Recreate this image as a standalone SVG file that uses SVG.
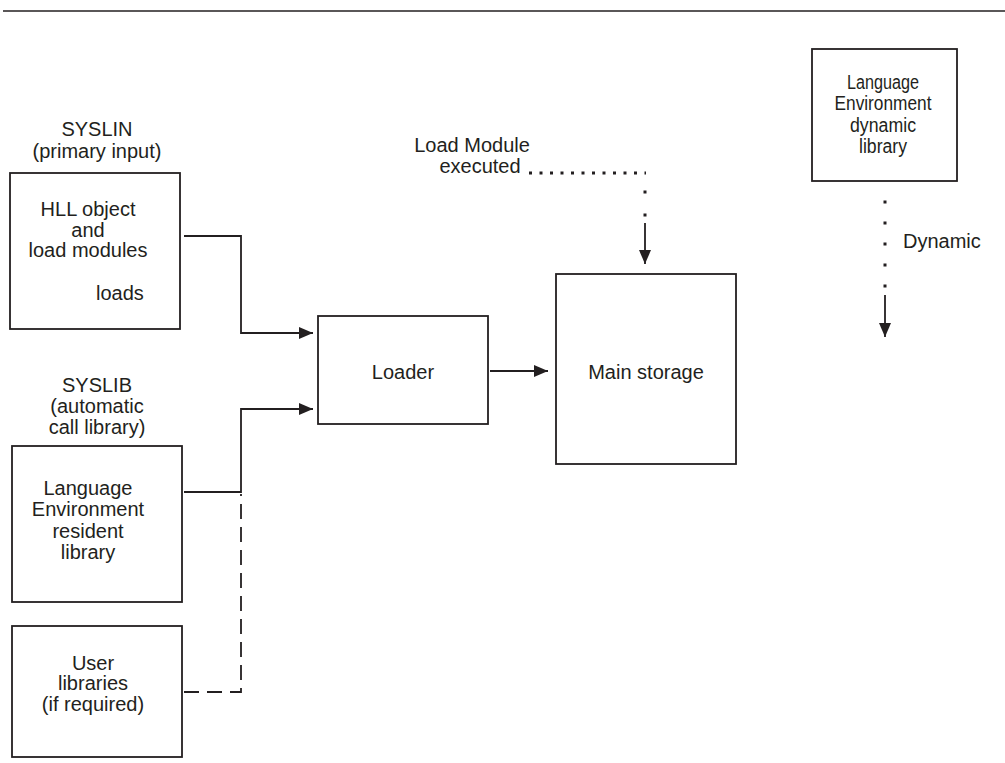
<svg xmlns="http://www.w3.org/2000/svg" width="1005" height="763" viewBox="0 0 1005 763">
<style>
.box{fill:#fff;stroke:#231f20;stroke-width:1.8}
.t{font-family:"Liberation Sans",Arial,sans-serif;font-size:20px;fill:#231f20;text-anchor:middle}
.tl{font-family:"Liberation Sans",Arial,sans-serif;font-size:20px;fill:#231f20}
.ln{fill:none;stroke:#231f20;stroke-width:1.8}
.dash{fill:none;stroke:#231f20;stroke-width:1.8;stroke-dasharray:15 8}
.dot{fill:none;stroke:#231f20;stroke-width:3;stroke-dasharray:3 7.5}
.vdot{fill:none;stroke:#231f20;stroke-width:3;stroke-dasharray:3 18}
</style>
<defs>
<marker id="ah" markerWidth="14" markerHeight="12" refX="14" refY="6" orient="auto" markerUnits="userSpaceOnUse">
<path d="M0,0 L14,6 L0,12 Z" fill="#231f20"/>
</marker>
</defs>
<line x1="3" y1="11" x2="1005" y2="11" stroke="#231f20" stroke-width="1.5"/>

<g id="syslin-label">
<text class="t" x="97" y="136">SYSLIN</text>
<text class="t" x="97" y="158">(primary input)</text>
</g>
<g id="hll">
<rect class="box" x="10" y="173" width="170" height="156"/>
<text class="t" x="88" y="216">HLL object</text>
<text class="t" x="88" y="237">and</text>
<text class="t" x="88" y="257">load modules</text>
<text class="tl" x="96" y="300">loads</text>
</g>
<g id="syslib-label">
<text class="t" x="97" y="392">SYSLIB</text>
<text class="t" x="97" y="413">(automatic</text>
<text class="t" x="97" y="434">call library)</text>
</g>
<g id="le-resident">
<rect class="box" x="12" y="446" width="170" height="156"/>
<text class="t" x="88" y="495">Language</text>
<text class="t" x="88" y="516">Environment</text>
<text class="t" x="88" y="538">resident</text>
<text class="t" x="88" y="559">library</text>
</g>
<g id="user-libs">
<rect class="box" x="12" y="626" width="170" height="131"/>
<text class="t" x="93" y="670">User</text>
<text class="t" x="93" y="690">libraries</text>
<text class="t" x="93" y="711">(if required)</text>
</g>
<g id="loader">
<rect class="box" x="318" y="316" width="170" height="108"/>
<text class="t" x="403" y="379">Loader</text>
</g>
<g id="main-storage">
<rect class="box" x="556" y="274" width="180" height="190"/>
<text class="t" x="646" y="379">Main storage</text>
</g>
<g id="load-module-label">
<text class="t" x="472" y="152">Load Module</text>
<text class="t" x="480" y="173">executed</text>
</g>
<g id="le-dynamic">
<rect class="box" x="812" y="49" width="145" height="132"/>
<text class="t" x="883" y="89" font-size="19" textLength="72" lengthAdjust="spacingAndGlyphs">Language</text>
<text class="t" x="883" y="110" font-size="19" textLength="97" lengthAdjust="spacingAndGlyphs">Environment</text>
<text class="t" x="883" y="132" font-size="19" textLength="66" lengthAdjust="spacingAndGlyphs">dynamic</text>
<text class="t" x="883" y="153" font-size="19" textLength="48" lengthAdjust="spacingAndGlyphs">library</text>
</g>
<g id="dynamic-label">
<text class="tl" x="903" y="248">Dynamic</text>
</g>

<g id="connectors">
<polyline class="ln" points="184,236 241,236 241,333 313,333" marker-end="url(#ah)"/>
<polyline class="ln" points="184,492 241,492 241,409 313,409" marker-end="url(#ah)"/>
<polyline class="dash" points="184,692 241,692 241,494"/>
<line class="ln" x1="490" y1="371" x2="548" y2="371" marker-end="url(#ah)"/>
<line class="dot" x1="529" y1="173" x2="646" y2="173"/>
<line class="vdot" x1="645" y1="190.5" x2="645" y2="217" style="stroke-dasharray:3 20"/>
<line class="ln" x1="645" y1="223" x2="645" y2="264" marker-end="url(#ah)"/>
<line class="vdot" x1="885" y1="200.5" x2="885" y2="289"/>
<line class="ln" x1="885" y1="295" x2="885" y2="337" marker-end="url(#ah)"/>
</g>
</svg>
